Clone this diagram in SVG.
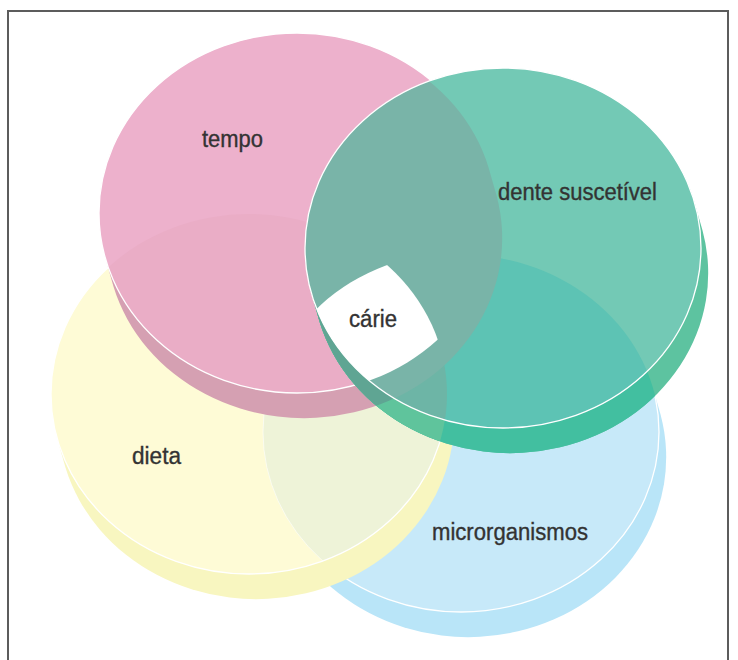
<svg xmlns="http://www.w3.org/2000/svg" width="738" height="660" viewBox="0 0 738 660">
  <defs>
    <style>
      .label { font-family: "Liberation Sans", Arial, sans-serif; font-size: 23px; fill: #333333; stroke: #333333; stroke-width: 0.35; }
      .rim { fill: none; stroke: #ffffff; stroke-width: 1.3; }
    </style>
    <!-- top faces of the four disks -->
    <clipPath id="cfP"><ellipse cx="297" cy="213" rx="198" ry="180"/></clipPath>
    <clipPath id="cfG"><ellipse cx="503" cy="248" rx="198" ry="180"/></clipPath>
    <clipPath id="cfY"><ellipse cx="249" cy="394" rx="198" ry="180"/></clipPath>
    <clipPath id="cfB"><ellipse cx="461" cy="432" rx="198" ry="180"/></clipPath>
    <!-- full silhouettes (face + thickness) -->
    <clipPath id="csP"><path d="M488.6,167.7 A198,180 0 0 0 105.4,258.3 L113.4,286.3 A198,180 0 0 0 496.6,195.7 Z"/></clipPath>
    <clipPath id="csY"><path d="M440.6,348.7 A198,180 0 0 0 57.4,439.3 L65.4,467.3 A198,180 0 0 0 448.6,376.7 Z"/></clipPath>
    <clipPath id="csB"><path d="M652.6,386.7 A198,180 0 0 0 269.4,477.3 L277.4,505.3 A198,180 0 0 0 660.6,414.7 Z"/></clipPath>
  </defs>

  <rect width="738" height="660" fill="#ffffff"/>
  <rect x="8" y="11" width="720" height="680" fill="none" stroke="#5c5c5c" stroke-width="2"/>

  <!-- microrganismos -->
  <g id="microrganismos">
    <path d="M652.6,386.7 A198,180 0 0 0 269.4,477.3 L277.4,505.3 A198,180 0 0 0 660.6,414.7 Z" fill="#b9e5f8"/>
    <ellipse cx="461" cy="432" rx="198" ry="180" fill="#c7e9f9"/>
    <ellipse class="rim" cx="461" cy="432" rx="198" ry="180"/>
    <text class="label" x="432" y="540" textLength="156" lengthAdjust="spacingAndGlyphs">microrganismos</text>
  </g>

  <!-- dieta -->
  <g id="dieta">
    <path d="M440.6,348.7 A198,180 0 0 0 57.4,439.3 L65.4,467.3 A198,180 0 0 0 448.6,376.7 Z" fill="#f8f6c0"/>
    <ellipse cx="249" cy="394" rx="198" ry="180" fill="#fefbd6"/>
    <g clip-path="url(#cfB)">
      <ellipse cx="249" cy="394" rx="198" ry="180" fill="#eef3d8"/>
    </g>
    <g clip-path="url(#cfY)">
      <ellipse cx="461" cy="432" rx="198" ry="180" fill="none" stroke="#ffffff" stroke-width="1" opacity="0.6"/>
    </g>
    <ellipse class="rim" cx="249" cy="394" rx="198" ry="180"/>
    <text class="label" x="132" y="463.5" textLength="49" lengthAdjust="spacingAndGlyphs">dieta</text>
  </g>

  <!-- tempo -->
  <g id="tempo">
    <path d="M488.6,167.7 A198,180 0 0 0 105.4,258.3 L113.4,286.3 A198,180 0 0 0 496.6,195.7 Z" fill="#d5a0b2"/>
    <ellipse cx="297" cy="213" rx="198" ry="180" fill="#edb1cc"/>
    <g clip-path="url(#cfY)">
      <ellipse cx="297" cy="213" rx="198" ry="180" fill="#eaadc6"/>
    </g>
    <ellipse class="rim" cx="297" cy="213" rx="198" ry="180"/>
    <text class="label" x="202" y="147" textLength="61" lengthAdjust="spacingAndGlyphs">tempo</text>
  </g>

  <!-- dente suscetível -->
  <g id="dente-suscetivel">
    <path d="M694.6,202.7 A198,180 0 0 0 311.4,293.3 L319.4,321.3 A198,180 0 0 0 702.6,230.7 Z" fill="#5dc3a0"/>
    <g clip-path="url(#csB)">
      <path d="M694.6,202.7 A198,180 0 0 0 311.4,293.3 L319.4,321.3 A198,180 0 0 0 702.6,230.7 Z" fill="#42bfa0"/>
    </g>
    <g clip-path="url(#cfY)">
      <path d="M694.6,202.7 A198,180 0 0 0 311.4,293.3 L319.4,321.3 A198,180 0 0 0 702.6,230.7 Z" fill="#5fc49c"/>
    </g>
    <g clip-path="url(#csP)">
      <path d="M694.6,202.7 A198,180 0 0 0 311.4,293.3 L319.4,321.3 A198,180 0 0 0 702.6,230.7 Z" fill="#5fa593"/>
    </g>
    <ellipse cx="503" cy="248" rx="198" ry="180" fill="#73c9b5"/>
    <g clip-path="url(#csB)">
      <ellipse cx="503" cy="248" rx="198" ry="180" fill="#5dc3b4"/>
    </g>
    <g clip-path="url(#cfY)">
      <ellipse cx="503" cy="248" rx="198" ry="180" fill="#6db5a6"/>
    </g>
    <g clip-path="url(#csP)">
      <ellipse cx="503" cy="248" rx="198" ry="180" fill="#79b4a8"/>
    </g>
    <ellipse class="rim" cx="503" cy="248" rx="198" ry="180"/>
    <text class="label" x="498" y="200" textLength="159" lengthAdjust="spacingAndGlyphs">dente suscetível</text>
  </g>

  <!-- cárie: common part of the four faces -->
  <g id="carie">
    <g clip-path="url(#cfP)">
      <g clip-path="url(#cfG)">
        <g clip-path="url(#cfY)">
          <ellipse cx="461" cy="432" rx="198" ry="180" fill="#ffffff"/>
        </g>
      </g>
    </g>
    <text class="label" x="349" y="327" textLength="48" lengthAdjust="spacingAndGlyphs">cárie</text>
  </g>
</svg>
